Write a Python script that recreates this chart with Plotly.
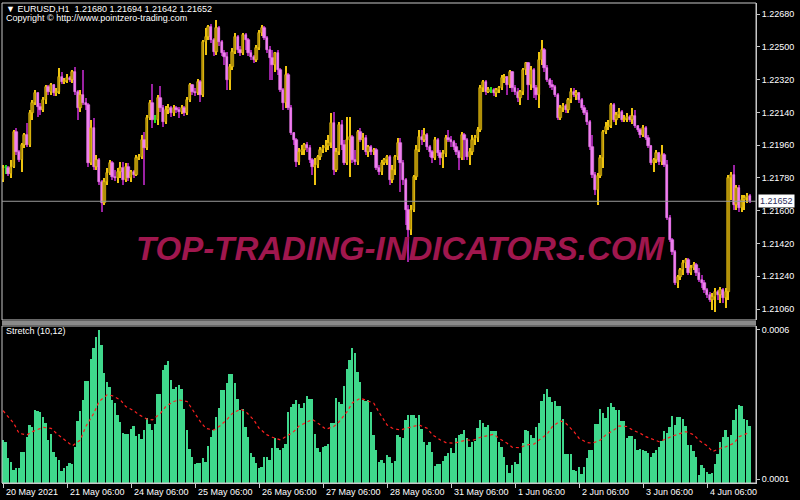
import plotly.graph_objects as go

# ---------------- data ----------------
symbol_header = "▼ EURUSD,H1  1.21680 1.21694 1.21642 1.21652"
copyright_text = "Copyright © http://www.pointzero-trading.com"
indicator_name = "Stretch (10,12)"
watermark = "TOP-TRADING-INDICATORS.COM"

time_labels = ["20 May 2021", "21 May 06:00", "24 May 06:00", "25 May 06:00",
               "26 May 06:00", "27 May 06:00", "28 May 06:00", "31 May 06:00",
               "1 Jun 06:00", "2 Jun 06:00", "3 Jun 06:00", "4 Jun 06:00"]
time_label_bars = [0, 24, 48, 72, 96, 120, 144, 168, 192, 216, 240, 264]

price_ticks = [1.21060, 1.21240, 1.21420, 1.21600, 1.21780,
               1.21960, 1.22140, 1.22320, 1.22500, 1.22680]
last_price = 1.21652
stretch_ticks = [0.0001, 0.0006]

first_open = 1.21769
close = [
1.21835,1.21835,1.21802,1.21840,1.22032,1.21922,1.21879,1.21961,1.22016,1.21961,
1.22137,1.22192,1.22246,1.22170,1.22153,1.22208,1.22279,1.22252,1.22290,1.22246,
1.22252,1.22334,1.22307,1.22312,1.22329,1.22318,1.22362,1.22252,1.22164,1.22235,
1.22192,1.22180,1.21862,1.22054,1.21840,1.21879,1.21758,1.21642,1.21758,1.21807,
1.21862,1.21785,1.21780,1.21813,1.21835,1.21769,1.21840,1.21780,1.21813,1.21796,
1.21890,1.21895,1.21988,1.21944,1.22109,1.22192,1.22098,1.22098,1.22219,1.22164,
1.22087,1.22153,1.22164,1.22137,1.22164,1.22153,1.22142,1.22164,1.22137,1.22208,
1.22290,1.22252,1.22246,1.22307,1.22235,1.22526,1.22554,1.22609,1.22537,1.22471,
1.22603,1.22526,1.22466,1.22444,1.22318,1.22389,1.22471,1.22554,1.22482,1.22466,
1.22565,1.22537,1.22466,1.22444,1.22428,1.22493,1.22576,1.22603,1.22548,1.22482,
1.22439,1.22400,1.22466,1.22373,1.22263,1.22192,1.22345,1.22164,1.22027,1.21988,
1.21868,1.21922,1.21933,1.21961,1.21944,1.21879,1.21840,1.21851,1.21895,1.21933,
1.21944,1.21955,1.21972,1.22082,1.21824,1.21922,1.22071,1.21961,1.21862,1.21988,
1.22005,1.21879,1.21868,1.22032,1.21988,1.21999,1.21922,1.21950,1.21922,1.21933,
1.21835,1.21813,1.21862,1.21879,1.21895,1.21769,1.21824,1.21895,1.21972,1.21862,
1.21769,1.21604,1.21494,1.21604,1.21785,1.21933,1.22005,1.21988,1.22016,1.21950,
1.21922,1.21890,1.21988,1.21917,1.21890,1.21911,1.21999,1.21988,1.21977,1.21950,
1.21922,1.21890,1.22016,1.21988,1.21895,1.21922,1.21988,1.21999,1.22043,1.22274,
1.22307,1.22252,1.22263,1.22263,1.22246,1.22263,1.22274,1.22329,1.22334,1.22290,
1.22362,1.22274,1.22252,1.22219,1.22252,1.22373,1.22411,1.22290,1.22373,1.22274,
1.22235,1.22428,1.22482,1.22384,1.22318,1.22290,1.22279,1.22235,1.22109,1.22164,
1.22175,1.22153,1.22208,1.22252,1.22235,1.22246,1.22208,1.22164,1.22137,1.22087,
1.21950,1.21796,1.21714,1.21791,1.21890,1.22032,1.22060,1.22065,1.22180,1.22098,
1.22126,1.22142,1.22098,1.22104,1.22115,1.22098,1.22120,1.22065,1.22043,1.22016,
1.22054,1.21999,1.21955,1.21862,1.21879,1.21917,1.21868,1.21906,1.21851,1.21560,
1.21439,1.21373,1.21203,1.21236,1.21275,1.21313,1.21330,1.21258,1.21286,1.21302,
1.21258,1.21220,1.21203,1.21165,1.21137,1.21110,1.21126,1.21154,1.21137,1.21165,
1.21121,1.21154,1.21780,1.21796,1.21631,1.21725,1.21615,1.21659,1.21670,1.21680,
1.21652]
high = [
1.21851,1.21851,1.21846,1.21879,1.22043,1.22054,1.21933,1.21972,1.22027,1.22082,
1.22153,1.22208,1.22263,1.22252,1.22192,1.22224,1.22290,1.22290,1.22301,1.22296,
1.22274,1.22384,1.22362,1.22329,1.22351,1.22340,1.22373,1.22389,1.22263,1.22263,
1.22373,1.22219,1.22192,1.22098,1.22109,1.21906,1.21890,1.21769,1.21780,1.21835,
1.21879,1.21873,1.21824,1.21835,1.21868,1.21868,1.21862,1.21862,1.21824,1.21824,
1.21906,1.21911,1.22016,1.22032,1.22126,1.22208,1.22296,1.22126,1.22235,1.22285,
1.22180,1.22175,1.22186,1.22175,1.22180,1.22175,1.22170,1.22180,1.22175,1.22224,
1.22301,1.22296,1.22274,1.22323,1.22318,1.22537,1.22603,1.22620,1.22625,1.22548,
1.22647,1.22614,1.22537,1.22482,1.22471,1.22406,1.22493,1.22576,1.22565,1.22504,
1.22576,1.22576,1.22548,1.22482,1.22455,1.22510,1.22592,1.22620,1.22614,1.22559,
1.22504,1.22482,1.22471,1.22482,1.22384,1.22274,1.22395,1.22356,1.22180,1.22032,
1.21999,1.21944,1.21961,1.21972,1.21977,1.21961,1.21890,1.21890,1.21906,1.21950,
1.21961,1.21988,1.22016,1.22137,1.22142,1.21944,1.22087,1.22098,1.21988,1.22115,
1.22115,1.22016,1.21933,1.22043,1.22054,1.22027,1.22016,1.21961,1.21961,1.21944,
1.21944,1.21851,1.21879,1.21890,1.21906,1.21906,1.21851,1.21906,1.21999,1.21999,
1.21879,1.21780,1.21631,1.21631,1.21796,1.21961,1.22043,1.22043,1.22054,1.22027,
1.21961,1.21933,1.22005,1.21999,1.21933,1.21933,1.22016,1.22043,1.22010,1.21988,
1.21972,1.21933,1.22032,1.22027,1.21999,1.21944,1.22016,1.22016,1.22060,1.22290,
1.22318,1.22318,1.22279,1.22279,1.22274,1.22274,1.22285,1.22345,1.22351,1.22340,
1.22373,1.22367,1.22290,1.22274,1.22263,1.22384,1.22417,1.22417,1.22395,1.22384,
1.22290,1.22471,1.22537,1.22493,1.22400,1.22329,1.22318,1.22290,1.22246,1.22180,
1.22192,1.22186,1.22219,1.22274,1.22274,1.22263,1.22252,1.22219,1.22180,1.22153,
1.22098,1.22016,1.21813,1.21807,1.21906,1.22043,1.22087,1.22098,1.22192,1.22192,
1.22142,1.22164,1.22153,1.22126,1.22137,1.22126,1.22164,1.22153,1.22071,1.22054,
1.22071,1.22065,1.22016,1.21961,1.21890,1.21933,1.21922,1.21961,1.21917,1.21879,
1.21577,1.21450,1.21384,1.21247,1.21286,1.21330,1.21341,1.21341,1.21302,1.21319,
1.21313,1.21286,1.21247,1.21220,1.21176,1.21154,1.21148,1.21176,1.21165,1.21181,
1.21176,1.21176,1.21796,1.21813,1.21851,1.21741,1.21741,1.21686,1.21686,1.21697,
1.21694]
low = [
1.21758,1.21802,1.21791,1.21780,1.21835,1.21906,1.21868,1.21813,1.21944,1.21950,
1.21950,1.22098,1.22180,1.22115,1.22126,1.22142,1.22186,1.22235,1.22235,1.22230,
1.22230,1.22241,1.22296,1.22296,1.22301,1.22307,1.22301,1.22235,1.22098,1.22142,
1.22180,1.22153,1.21840,1.21851,1.21824,1.21824,1.21741,1.21593,1.21631,1.21741,
1.21796,1.21769,1.21763,1.21752,1.21780,1.21741,1.21758,1.21763,1.21758,1.21780,
1.21791,1.21879,1.21884,1.21741,1.21933,1.22098,1.22054,1.22082,1.22071,1.22142,
1.22060,1.22076,1.22131,1.22115,1.22120,1.22137,1.22109,1.22131,1.22120,1.22126,
1.22197,1.22235,1.22230,1.22235,1.22197,1.22224,1.22455,1.22537,1.22521,1.22450,
1.22455,1.22504,1.22450,1.22400,1.22263,1.22263,1.22373,1.22460,1.22466,1.22450,
1.22455,1.22482,1.22450,1.22428,1.22411,1.22417,1.22482,1.22559,1.22537,1.22466,
1.22318,1.22318,1.22362,1.22345,1.22252,1.22153,1.22164,1.22153,1.22016,1.21961,
1.21840,1.21851,1.21906,1.21906,1.21922,1.21862,1.21796,1.21741,1.21835,1.21879,
1.21917,1.21922,1.21933,1.21944,1.21796,1.21813,1.21906,1.21933,1.21851,1.21851,
1.21785,1.21862,1.21851,1.21851,1.21977,1.21933,1.21906,1.21895,1.21906,1.21906,
1.21824,1.21796,1.21796,1.21851,1.21851,1.21741,1.21752,1.21796,1.21879,1.21703,
1.21741,1.21522,1.21319,1.21467,1.21593,1.21769,1.21922,1.21961,1.21977,1.21933,
1.21895,1.21862,1.21879,1.21901,1.21851,1.21835,1.21895,1.21977,1.21950,1.21933,
1.21906,1.21824,1.21879,1.21879,1.21879,1.21851,1.21906,1.21961,1.21977,1.22032,
1.22252,1.22235,1.22246,1.22246,1.22230,1.22224,1.22246,1.22263,1.22301,1.22235,
1.22274,1.22252,1.22235,1.22197,1.22180,1.22235,1.22345,1.22208,1.22263,1.22219,
1.22208,1.22164,1.22400,1.22362,1.22307,1.22274,1.22263,1.22224,1.22098,1.22098,
1.22142,1.22137,1.22137,1.22192,1.22224,1.22208,1.22192,1.22153,1.22126,1.22071,
1.21933,1.21780,1.21686,1.21631,1.21780,1.21835,1.22021,1.22043,1.22054,1.22087,
1.22071,1.22109,1.22087,1.22087,1.22087,1.22087,1.22076,1.22054,1.22032,1.21999,
1.22005,1.21988,1.21944,1.21851,1.21813,1.21862,1.21851,1.21851,1.21840,1.21549,
1.21428,1.21357,1.21192,1.21176,1.21220,1.21247,1.21286,1.21247,1.21247,1.21275,
1.21242,1.21209,1.21176,1.21148,1.21121,1.21099,1.21055,1.21044,1.21110,1.21093,
1.21093,1.21066,1.21110,1.21659,1.21604,1.21604,1.21593,1.21593,1.21604,1.21642,
1.21642]

stretch = [
0.000231,0.000225,0.000169,0.000158,0.000130,0.000136,0.000138,0.000189,0.000189,0.000242,
0.000280,0.000276,0.000332,0.000329,0.000326,0.000309,0.000287,0.000231,0.000250,0.000192,
0.000175,0.000164,0.000128,0.000136,0.000143,0.000155,0.000150,0.000208,0.000295,0.000329,
0.000365,0.000427,0.000427,0.000503,0.000539,0.000575,0.000598,0.000550,0.000457,0.000425,
0.000410,0.000365,0.000354,0.000315,0.000292,0.000253,0.000251,0.000251,0.000267,0.000278,
0.000244,0.000250,0.000234,0.000264,0.000306,0.000283,0.000264,0.000283,0.000385,0.000385,
0.000464,0.000483,0.000496,0.000432,0.000401,0.000410,0.000416,0.000401,0.000334,0.000264,
0.000199,0.000175,0.000152,0.000155,0.000155,0.000171,0.000158,0.000211,0.000240,0.000264,
0.000309,0.000339,0.000399,0.000399,0.000421,0.000451,0.000453,0.000421,0.000367,0.000332,
0.000334,0.000276,0.000242,0.000186,0.000175,0.000155,0.000136,0.000141,0.000175,0.000173,
0.000164,0.000205,0.000236,0.000205,0.000197,0.000205,0.000217,0.000326,0.000341,0.000352,
0.000365,0.000352,0.000339,0.000354,0.000379,0.000369,0.000367,0.000250,0.000203,0.000189,
0.000208,0.000211,0.000217,0.000289,0.000289,0.000371,0.000358,0.000351,0.000412,0.000468,
0.000500,0.000539,0.000524,0.000458,0.000425,0.000365,0.000360,0.000365,0.000326,0.000248,
0.000197,0.000158,0.000164,0.000155,0.000180,0.000175,0.000155,0.000160,0.000248,0.000242,
0.000239,0.000298,0.000314,0.000314,0.000314,0.000306,0.000314,0.000267,0.000225,0.000214,
0.000223,0.000190,0.000143,0.000150,0.000150,0.000161,0.000177,0.000188,0.000203,0.000188,
0.000239,0.000248,0.000251,0.000264,0.000236,0.000208,0.000225,0.000227,0.000270,0.000298,
0.000289,0.000276,0.000281,0.000261,0.000261,0.000261,0.000223,0.000208,0.000175,0.000147,
0.000121,0.000147,0.000158,0.000150,0.000188,0.000220,0.000264,0.000261,0.000248,0.000236,
0.000276,0.000289,0.000363,0.000385,0.000403,0.000376,0.000358,0.000360,0.000346,0.000345,
0.000300,0.000184,0.000184,0.000184,0.000130,0.000128,0.000141,0.000117,0.000141,0.000169,
0.000197,0.000197,0.000285,0.000285,0.000334,0.000320,0.000304,0.000341,0.000356,0.000343,
0.000332,0.000332,0.000296,0.000295,0.000236,0.000244,0.000244,0.000235,0.000197,0.000199,
0.000197,0.000194,0.000188,0.000175,0.000188,0.000197,0.000208,0.000229,0.000261,0.000253,
0.000276,0.000311,0.000281,0.000309,0.000307,0.000300,0.000278,0.000214,0.000214,0.000195,
0.000175,0.000115,0.000147,0.000138,0.000124,0.000117,0.000119,0.000152,0.000184,0.000225,
0.000242,0.000264,0.000242,0.000248,0.000298,0.000334,0.000348,0.000345,0.000300,0.000298,
0.000278]

signal_bar = [0, 4, 6, 9, 11, 15, 18, 20, 24, 26, 29, 31, 34, 36, 39, 41, 44, 46, 49, 51,
              54, 56, 59, 61, 64, 66, 69, 71, 74, 76, 79, 81, 84, 86, 89, 91, 94, 96, 99, 101,
              104, 106, 109, 111, 114, 116, 119, 121, 124, 126, 129, 131, 134, 136, 139, 141,
              144, 146, 149, 151, 154, 156, 159, 161, 164, 166, 169, 171, 174, 176, 179, 181,
              184, 186, 189, 191, 194, 196, 199, 201, 204, 206, 209, 211, 214, 216, 219, 221,
              224, 226, 229, 231, 234, 236, 239, 241, 244, 246, 249, 251, 254, 256, 259, 261,
              264, 266, 269, 271, 274, 276, 279]
signal = [
0.000329,0.000287,0.000253,0.000248,0.000259,0.000273,0.000270,0.000253,0.000225,0.000211,
0.000231,0.000276,0.000320,0.000360,0.000382,0.000379,0.000365,0.000343,0.000329,0.000315,
0.000301,0.000298,0.000320,0.000343,0.000360,0.000365,0.000360,0.000332,0.000292,0.000270,
0.000264,0.000276,0.000300,0.000320,0.000334,0.000326,0.000298,0.000270,0.000248,0.000240,
0.000231,0.000242,0.000259,0.000278,0.000292,0.000300,0.000281,0.000267,0.000276,0.000292,
0.000326,0.000356,0.000371,0.000365,0.000354,0.000323,0.000281,0.000270,0.000264,0.000270,
0.000278,0.000281,0.000270,0.000248,0.000231,0.000222,0.000220,0.000225,0.000231,0.000229,
0.000240,0.000244,0.000250,0.000236,0.000220,0.000206,0.000205,0.000214,0.000217,0.000231,
0.000251,0.000276,0.000295,0.000287,0.000259,0.000236,0.000222,0.000220,0.000231,0.000248,
0.000264,0.000278,0.000276,0.000264,0.000253,0.000242,0.000233,0.000225,0.000236,0.000244,
0.000253,0.000259,0.000248,0.000229,0.000211,0.000192,0.000203,0.000208,0.000220,0.000242,
0.000253]

# ---------------- styling ----------------
FONT = "Liberation Sans, Arial, sans-serif"
AX = "#c8c8c8"
BULL_BODY, BULL_WICK = "#b08f08", "#eec410"
BEAR_BODY, BEAR_WICK = "#f080f0", "#9a22a2"
DOJI = "#22e022"

n = len(close)
idx = list(range(n))
opens = [first_open] + close[:-1]

body_base, body_h, body_col, body_line, wick_col = [], [], [], [], []
for o, c in zip(opens, close):
    body_base.append(min(o, c))
    body_h.append(max(abs(c - o), 0.00003))
    if c > o:
        body_col.append(BULL_BODY); body_line.append(BULL_WICK); wick_col.append(BULL_WICK)
    elif c < o:
        body_col.append(BEAR_BODY); body_line.append(BEAR_BODY); wick_col.append(BEAR_WICK)
    else:
        body_col.append(DOJI); body_line.append(DOJI); wick_col.append(DOJI)
wick_h = [h - l for h, l in zip(high, low)]

fig = go.Figure()
fig.add_trace(go.Bar(x=idx, y=wick_h, base=low, width=0.5, marker=dict(color=wick_col, line=dict(width=0)),
                     xaxis="x", yaxis="y", hoverinfo="skip"))
fig.add_trace(go.Bar(x=idx, y=body_h, base=body_base, width=0.84,
                     marker=dict(color=body_col, line=dict(width=0.6, color=body_line)),
                     xaxis="x", yaxis="y", hoverinfo="skip"))
fig.add_trace(go.Bar(x=idx, y=stretch, width=0.66, marker=dict(color="#3fd88c", line=dict(width=0)),
                     xaxis="x2", yaxis="y2", hoverinfo="skip"))
fig.add_trace(go.Scatter(x=signal_bar, y=signal, mode="lines",
                         line=dict(color="#ff2020", width=1.2, dash="dot"),
                         xaxis="x2", yaxis="y2", hoverinfo="skip"))

XR = [-0.4, 282.3]
main_dom = [0.3396, 1.0]
low_dom = [0.0, 0.3271]

fig.update_layout(
    width=800, height=500, paper_bgcolor="black", plot_bgcolor="black",
    margin=dict(l=2, r=44, t=3, b=17, autoexpand=False), showlegend=False,
    barmode="overlay", bargap=0,
    font=dict(family=FONT, color="white", size=9),
    xaxis=dict(domain=[0, 1], range=XR, anchor="y", showticklabels=False, showgrid=False,
               zeroline=False, showline=False, ticks="", automargin=False),
    xaxis2=dict(domain=[0, 1], range=XR, anchor="y2", showticklabels=False, showgrid=False,
                zeroline=False, showline=True, linecolor=AX, linewidth=1,
                tickmode="array", tickvals=time_label_bars, ticks="outside", ticklen=4,
                tickcolor=AX, tickwidth=1, automargin=False),
    yaxis=dict(domain=main_dom, range=[1.21000, 1.22741], side="right", anchor="x",
               tickmode="array", tickvals=price_ticks, ticktext=[f"{p:.5f}" for p in price_ticks],
               ticks="outside", ticklen=3, tickcolor=AX, showgrid=False, zeroline=False,
               showline=True, linecolor=AX, linewidth=1, automargin=False,
               tickfont=dict(family=FONT, color="white", size=9)),
    yaxis2=dict(domain=low_dom, range=[0.0000866, 0.000613], side="right", anchor="x2",
                tickmode="array", tickvals=stretch_ticks, ticktext=["0.0001", "0.0006"],
                ticks="outside", ticklen=3, tickcolor=AX, showgrid=False, zeroline=False,
                showline=True, linecolor=AX, linewidth=1, automargin=False,
                tickfont=dict(family=FONT, color="white", size=9)),
)

def px_x(px):
    return (px - 2) / 754.0

def px_y(py):
    return (483 - py) / 480.0

shapes = [
    dict(type="rect", xref="paper", yref="paper", x0=0, x1=1, y0=main_dom[0], y1=1,
         line=dict(color=AX, width=1)),
    dict(type="rect", xref="paper", yref="paper", x0=0, x1=1, y0=px_y(325), y1=px_y(321),
         fillcolor="#8a8a8a", line=dict(width=0)),
    dict(type="rect", xref="paper", yref="paper", x0=0, x1=1, y0=0, y1=low_dom[1],
         line=dict(color=AX, width=1)),
    dict(type="line", xref="paper", yref="y", x0=0, x1=1, y0=last_price, y1=last_price,
         line=dict(color="#9a9a9a", width=1)),
]
fig.update_layout(shapes=shapes)

ann = [
    dict(text=symbol_header, x=px_x(4), y=px_y(9), xanchor="left", yanchor="middle",
         font=dict(family=FONT, size=9, color="white")),
    dict(text=copyright_text, x=px_x(4), y=px_y(18), xanchor="left", yanchor="middle",
         font=dict(family=FONT, size=9, color="white")),
    dict(text=indicator_name, x=px_x(4), y=px_y(331), xanchor="left", yanchor="middle",
         font=dict(family=FONT, size=9, color="white")),
    dict(text="<b><i>" + watermark + "</i></b>", x=px_x(400), y=px_y(249),
         xanchor="center", yanchor="middle",
         font=dict(family=FONT, size=33, color="#a0174e")),
    dict(text=f"{last_price:.5f}", x=1, xref="paper", y=last_price, yref="y",
         xanchor="left", yanchor="middle", xshift=2, bgcolor="white", borderpad=1,
         font=dict(family=FONT, size=9, color="#303060")),
]
for a in ann:
    a.setdefault("xref", "paper")
    a.setdefault("yref", "paper")
    a["showarrow"] = False
for b, t in zip(time_label_bars, time_labels):
    ann.append(dict(text=t, x=b, xref="x2", y=px_y(492), yref="paper", xanchor="left",
                    yanchor="middle", xshift=1, showarrow=False,
                    font=dict(family=FONT, size=9, color="white")))
fig.update_layout(annotations=ann)

# the page's default body margin would shift the 800x500 figure; remove it
fig.write_html("out.html", config={"displayModeBar": False},
               post_script="document.body.style.margin='0';document.body.style.overflow='hidden';")
